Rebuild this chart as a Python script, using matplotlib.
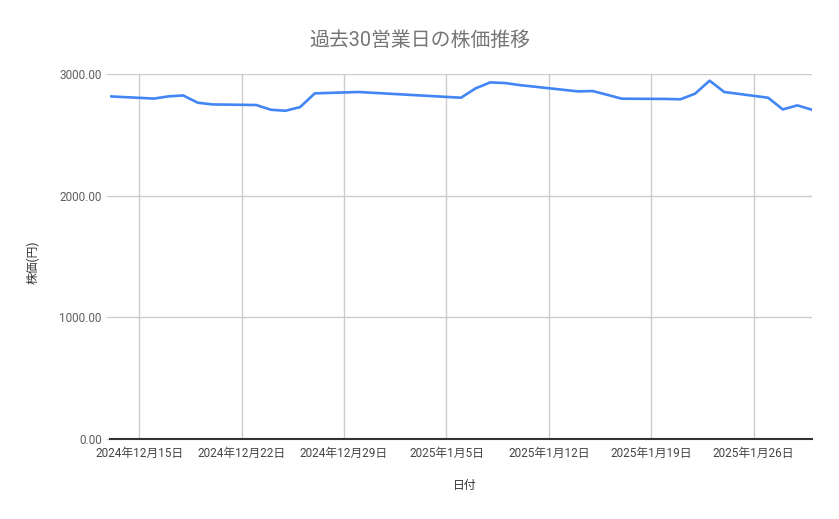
import pandas as pd
import matplotlib.pyplot as plt

# 過去30営業日の終値
dates = ["2024-12-13", "2024-12-16", "2024-12-17", "2024-12-18", "2024-12-19",
         "2024-12-20", "2024-12-23", "2024-12-24", "2024-12-25", "2024-12-26",
         "2024-12-27", "2024-12-30", "2025-01-06", "2025-01-07", "2025-01-08",
         "2025-01-09", "2025-01-10", "2025-01-14", "2025-01-15", "2025-01-16",
         "2025-01-17", "2025-01-20", "2025-01-21", "2025-01-22", "2025-01-23",
         "2025-01-24", "2025-01-27", "2025-01-28", "2025-01-29", "2025-01-30"]
prices = [2816, 2798, 2816, 2824, 2764,
          2750, 2745, 2706, 2698, 2728,
          2841, 2852, 2805, 2882, 2931,
          2926, 2909, 2857, 2860, 2829,
          2797, 2795, 2792, 2838, 2945,
          2852, 2805, 2709, 2742, 2706]
tick_dates = ["2024-12-15", "2024-12-22", "2024-12-29", "2025-01-05",
              "2025-01-12", "2025-01-19", "2025-01-26"]
y_ticks = [0, 1000, 2000, 3000]

plt.rcParams["font.family"] = ["Roboto", "Noto Sans CJK JP", "DejaVu Sans"]

x = pd.to_datetime(dates)
xt = pd.to_datetime(tick_dates)

fig = plt.figure(figsize=(8.39, 5.19), dpi=100)
ax = fig.add_axes([110 / 839, 1 - 439 / 519, 702 / 839, 365 / 519])

ax.plot(x, prices, color="#4285F4", linewidth=1.9, solid_joinstyle="round", zorder=3)

ax.set_xlim(x[0], x[-1])
ax.set_ylim(0, 3000)
ax.set_yticks(y_ticks)
ax.set_yticklabels([f"{v:.2f}" for v in y_ticks])
ax.set_xticks(xt)
ax.set_xticklabels([f"{d.year}年{d.month}月{d.day}日" for d in xt])

ax.grid(True, color="#cccccc", linewidth=1)
ax.set_axisbelow(True)
for s in ["top", "right", "left"]:
    ax.spines[s].set_visible(False)
ax.spines["bottom"].set_color("#333333")
ax.spines["bottom"].set_linewidth(1.5)
ax.spines["bottom"].set_zorder(4)

ax.tick_params(axis="y", length=3, color="#cccccc", labelsize=8.5, labelcolor="#5f5f5f", pad=3)
ax.tick_params(axis="x", length=0, labelsize=8.5, labelcolor="#444444", pad=6)

fig.text(0.5, 1 - 40 / 519, "過去30営業日の株価推移", ha="center", va="center",
         fontsize=14.3, color="#757575")
fig.text(465 / 839, 1 - 486 / 519, "日付", ha="center", va="center",
         fontsize=8.5, color="#333333")
fig.text(33 / 839, 1 - 262 / 519, "株価(円)", ha="center", va="center",
         rotation=90, fontsize=8.5, color="#333333")

fig.savefig("out.png", dpi=100)
